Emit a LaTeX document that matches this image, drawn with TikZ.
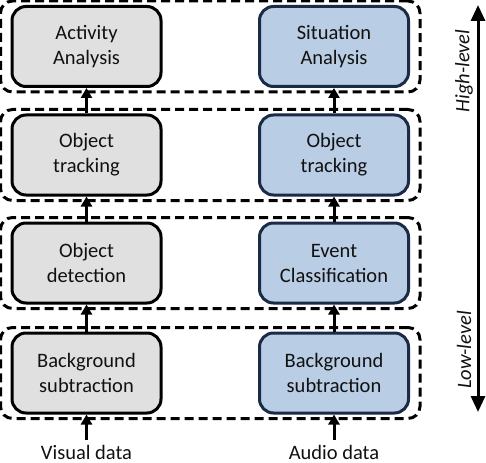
\documentclass[tikz,border=0pt]{standalone}
\usepackage{fontspec}
\setmainfont{Carlito}
\usetikzlibrary{arrows.meta,fit}
\definecolor{grayfill}{HTML}{E0E0E0}
\definecolor{bluefill}{HTML}{B9CDE5}
\definecolor{navy}{HTML}{1B2A47}
\definecolor{txt}{HTML}{111111}
\begin{document}
\begin{tikzpicture}[x=1pt,y=1pt,
  procbox/.style={draw, line width=3pt, rounded corners=14pt, minimum width=149pt, minimum height=80pt, align=center, text=txt, font=\fontsize{20.5}{25}\selectfont, inner sep=0pt},
  graybox/.style={procbox, fill=grayfill, draw=black},
  bluebox/.style={procbox, fill=bluefill, draw=navy},
  groupbox/.style={draw, line width=3pt, dash pattern=on 9pt off 5pt, rounded corners=12pt, inner xsep=10pt, inner ysep=4pt},
  flow/.style={line width=3pt, -{Triangle[width=11pt,length=10pt]}},
  lbl/.style={text=txt, font=\fontsize{20.5}{25}\selectfont}
]
\useasboundingbox (0,0) rectangle (486,-462);

% left column
\node[graybox] (l1) at (86.5,-46.5) {Activity\\Analysis};
\node[graybox] (l2) at (86.5,-155) {Object\\tracking};
\node[graybox] (l3) at (86.5,-263) {Object\\detection};
\node[graybox] (l4) at (86.5,-373) {Background\\subtraction};

% right column
\node[bluebox] (r1) at (334,-46.5) {Situation\\Analysis};
\node[bluebox] (r2) at (334,-155) {Object\\tracking};
\node[bluebox] (r3) at (334,-263) {Event\\Classification};
\node[bluebox] (r4) at (334,-373) {Background\\subtraction};

% groups
\node[groupbox, fit=(l1)(r1)] (g1) {};
\node[groupbox, fit=(l2)(r2)] (g2) {};
\node[groupbox, fit=(l3)(r3)] (g3) {};
\node[groupbox, fit=(l4)(r4)] (g4) {};

% flows
\foreach \a/\b in {l4/l3,l3/l2,l2/l1,r4/r3,r3/r2,r2/r1}
  \draw[flow] (\a.north) -- (\b.south);

% inputs
\coordinate (vin) at (86.5,-440);
\coordinate (ain) at (334,-440);
\draw[flow] (vin) -- (l4.south);
\draw[flow] (ain) -- (r4.south);
\node[lbl, anchor=base, inner sep=0pt] (vis) at (86.5,-459) {Visual data};
\node[lbl, anchor=base, inner sep=0pt] (aud) at (334,-459) {Audio data};

% level axis
\coordinate (atop) at (478,-5);
\coordinate (abot) at (478,-412);
\draw[line width=3pt, {Triangle[width=14pt,length=16pt]}-{Triangle[width=14pt,length=16pt]}] (abot) -- (atop);
\node[lbl, rotate=90, font=\fontsize{20.5}{25}\selectfont\itshape] (hl) at (464,-71) {High-level};
\node[lbl, rotate=90, font=\fontsize{20.5}{25}\selectfont\itshape] (ll) at (464,-350) {Low-level};
\end{tikzpicture}
\end{document}
